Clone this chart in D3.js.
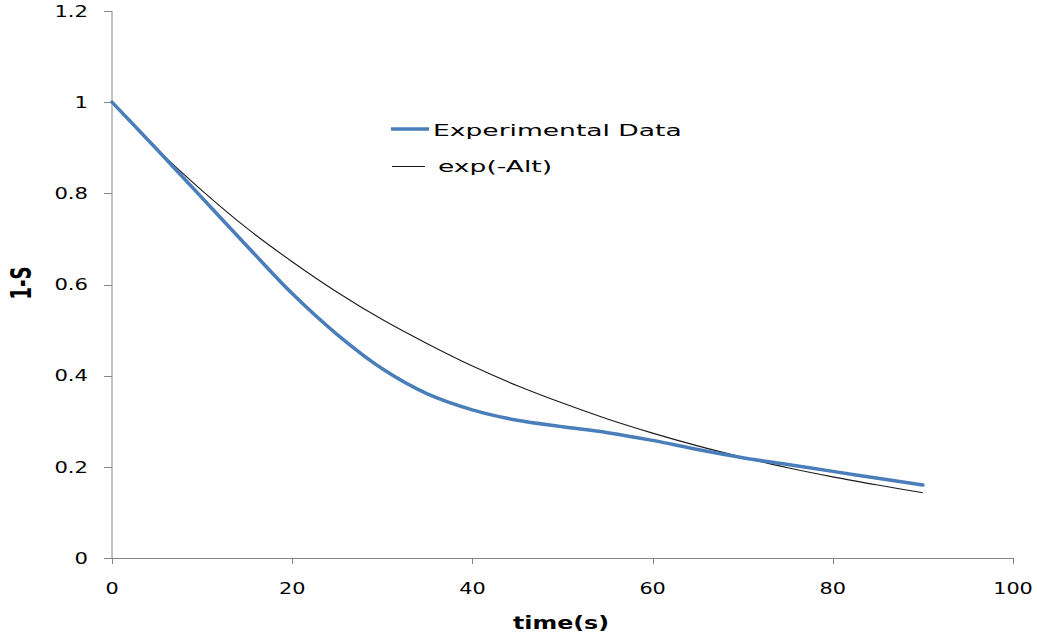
<!DOCTYPE html>
<html>
<head>
<meta charset="utf-8">
<script src="https://cdn.jsdelivr.net/npm/d3@7"></script>
<style>
  body { margin: 0; background: #fff; }
  svg { display: block; }
  text { font-family: "DejaVu Sans", Verdana, sans-serif; fill: #000; }
</style>
</head>
<body>
<script>
const w = 1037;
const h = 640;

// ----- DATA -----
const time = [0, 5, 10, 15, 20, 25, 30, 35, 40, 45, 50, 55, 60, 65, 70, 75, 80, 85, 90];
const experimental = [1.0, 0.896, 0.79, 0.684, 0.58, 0.49, 0.415, 0.36, 0.325, 0.302, 0.288, 0.275,
  0.258, 0.238, 0.22, 0.205, 0.19, 0.175, 0.16];
const expFit = [1.0, 0.897, 0.806, 0.723, 0.65, 0.583, 0.523, 0.47, 0.421, 0.378, 0.34, 0.305,
  0.274, 0.246, 0.221, 0.198, 0.178, 0.16, 0.143];
const xTicks = [0, 20, 40, 60, 80, 100];
const yTicks = [0, 0.2, 0.4, 0.6, 0.8, 1, 1.2];
const seriesNames = ["Experimental Data", "exp(-Alt)"];

const axisColor = "#868686";

// ----- SVG -----
const svg = d3.select("body").
append("svg").
attr("width", w).
attr("height", h);

svg.append("rect").attr("width", w).attr("height", h).attr("fill", "#fff");

// ----- SCALES -----
const x = d3.scaleLinear().domain([0, 100]).range([112, 1013]);
const y = d3.scaleLinear().domain([0, 1.2]).range([558, 11]);

// the original picture is stretched sideways, so text gets a scaleX
function stretchedText(g, tx, ty, sx, str) {
  return g.append("text").
  attr("transform", "translate(" + tx + "," + ty + ") scale(" + sx + ",1)").
  text(str);
}

// ----- Y AXIS -----
const yAxis = svg.append("g").attr("id", "y-axis");
yAxis.append("line").
attr("x1", x(0)).attr("x2", x(0)).
attr("y1", y(1.2)).attr("y2", y(0)).
attr("stroke", axisColor);

yTicks.forEach(function (t) {
  yAxis.append("line").
  attr("x1", x(0) - 8).attr("x2", x(0)).
  attr("y1", Math.round(y(t)) + 0.5).attr("y2", Math.round(y(t)) + 0.5).
  attr("stroke", axisColor);
  stretchedText(yAxis, 88, y(t), 1.32, String(t)).
  attr("text-anchor", "end").
  attr("dy", "0.36em").
  style("font-size", "16px");
});

// ----- X AXIS -----
const xAxis = svg.append("g").attr("id", "x-axis");
xAxis.append("line").
attr("x1", x(0) - 8).attr("x2", x(100)).
attr("y1", y(0) + 0.5).attr("y2", y(0) + 0.5).
attr("stroke", axisColor);

xTicks.forEach(function (t) {
  xAxis.append("line").
  attr("x1", Math.round(x(t)) + 0.5).attr("x2", Math.round(x(t)) + 0.5).
  attr("y1", y(0)).attr("y2", y(0) + 6).
  attr("stroke", axisColor);
  stretchedText(xAxis, x(t), 594, 1.3, String(t)).
  attr("text-anchor", "middle").
  style("font-size", "16px");
});

// ----- AXIS TITLES -----
stretchedText(svg, 561, 629, 1.32, "time(s)").
attr("text-anchor", "middle").
style("font-size", "18px").
style("font-weight", "bold");

svg.append("text").
attr("transform", "translate(31,283) scale(1.6,1) rotate(-90)").
attr("text-anchor", "middle").
style("font-size", "18px").
style("font-weight", "bold").
text("1-S");

// ----- LINES -----
const line = d3.line().
x((d, i) => x(time[i])).
y(d => y(d)).
curve(d3.curveCatmullRom.alpha(0.5));

svg.append("path").
datum(expFit).
attr("fill", "none").
attr("stroke", "#1a1a1a").
attr("stroke-width", 1.1).
attr("d", line);

svg.append("path").
datum(experimental).
attr("fill", "none").
attr("stroke", "#4a7ebb").
attr("stroke-width", 3.5).
attr("stroke-linejoin", "round").
attr("stroke-linecap", "round").
attr("d", line);

// ----- LEGEND -----
const legend = svg.append("g").attr("id", "legend");
legend.append("line").
attr("x1", 391).attr("x2", 429).
attr("y1", 129).attr("y2", 129).
attr("stroke", "#4a7ebb").
attr("stroke-width", 3.5);
stretchedText(legend, 433, 136, 1.77, seriesNames[0]).
style("font-size", "15px");

legend.append("line").
attr("x1", 392).attr("x2", 425).
attr("y1", 166.5).attr("y2", 166.5).
attr("stroke", "#1a1a1a").
attr("stroke-width", 1);
stretchedText(legend, 438, 172, 1.77, seriesNames[1]).
style("font-size", "15px");
</script>
</body>
</html>
